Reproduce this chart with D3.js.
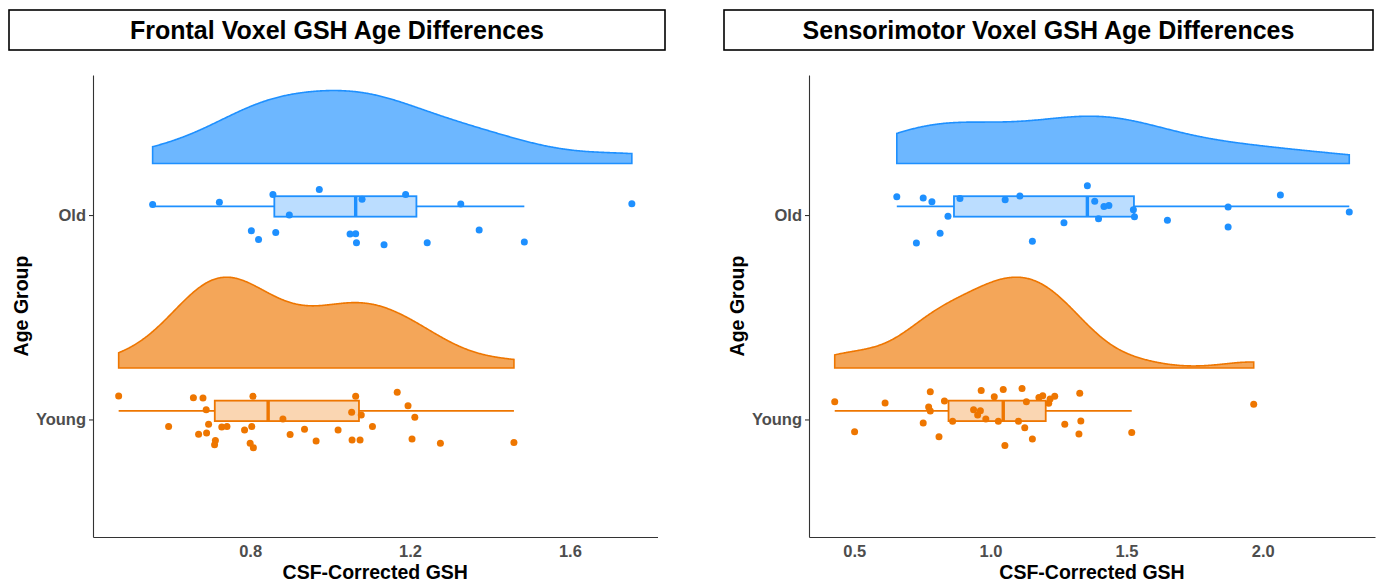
<!DOCTYPE html>
<html>
<head>
<meta charset="utf-8">
<script src="https://cdn.jsdelivr.net/npm/d3@7"></script>
<style>
  body { margin: 0; background: #fff; }
  text { font-family: "Liberation Sans", Arial, sans-serif; }
</style>
</head>
<body>
<div id="chart"></div>
<script>
// values; jitter = vertical offset of each dot in category units
var groups = ["Young", "Old"];
var titles = ["Frontal Voxel GSH Age Differences", "Sensorimotor Voxel GSH Age Differences"];
var xTitle = "CSF-Corrected GSH";
var yTitle = "Age Group";

var frontalOld = [0.556, 0.723, 0.857, 0.973, 0.898, 1.080, 1.189, 1.327, 1.755, 0.803, 0.821, 0.864, 1.050, 1.064, 1.066, 1.135, 1.243, 1.373, 1.486];
var frontalOldJitter = [0.052, 0.062, 0.101, 0.125, 0.0, 0.077, 0.101, 0.054, 0.055, -0.077, -0.120, -0.085, -0.093, -0.091, -0.135, -0.145, -0.135, -0.073, -0.132];
var frontalYoung = [0.471, 0.658, 0.682, 0.690, 0.807, 1.064, 1.054, 1.078, 1.168, 1.195, 1.212, 0.882, 0.596, 0.696, 0.729, 0.742, 0.786, 0.804, 0.671, 0.691, 0.713, 0.711, 0.800, 0.808, 0.900, 0.936, 0.965, 1.020, 1.055, 1.075, 1.106, 1.205, 1.276, 1.460];
var frontalYoungJitter = [0.115, 0.106, 0.105, 0.048, 0.113, 0.113, 0.035, 0.022, 0.133, 0.067, 0.011, 0.002, -0.035, -0.023, -0.037, -0.035, -0.051, -0.035, -0.072, -0.066, -0.103, -0.124, -0.116, -0.138, -0.074, -0.048, -0.105, -0.051, -0.100, -0.101, -0.035, -0.095, -0.116, -0.113];
var frontalTicks = [0.8, 1.2, 1.6];

var sensoriOld = [0.656, 0.753, 0.785, 0.888, 1.054, 1.108, 1.356, 1.383, 1.417, 1.435, 1.525, 1.529, 1.397, 1.270, 0.844, 0.815, 0.728, 1.154, 1.650, 1.873, 1.873, 2.065, 2.318];
var sensoriOldJitter = [0.089, 0.083, 0.065, 0.081, 0.075, 0.093, 0.143, 0.068, 0.042, 0.047, 0.026, -0.008, -0.018, -0.038, -0.006, -0.089, -0.137, -0.128, -0.026, 0.039, -0.059, 0.098, 0.015];
var sensoriYoung = [0.428, 0.613, 0.501, 0.779, 0.773, 0.779, 0.753, 0.811, 0.831, 0.861, 0.938, 0.963, 0.953, 0.966, 0.983, 1.014, 1.029, 1.047, 1.053, 1.103, 1.116, 1.126, 1.132, 1.154, 1.178, 1.192, 1.214, 1.219, 1.236, 1.273, 1.328, 1.332, 1.325, 1.519, 1.967];
var sensoriYoungJitter = [0.087, 0.080, -0.060, 0.136, 0.061, 0.041, -0.017, -0.085, 0.090, -0.009, 0.048, 0.043, 0.022, 0.142, 0.002, 0.111, -0.009, 0.147, -0.128, -0.009, 0.152, -0.040, 0.087, -0.095, 0.108, 0.116, 0.079, 0.100, 0.113, -0.023, 0.128, -0.007, -0.071, -0.064, 0.074];
var sensoriTicks = [0.5, 1.0, 1.5, 2.0];

var colors = { Young: "#EE7600", Old: "#1E90FF" };

var W = 1382, H = 582;
var svg = d3.select("#chart").append("svg").attr("width", W).attr("height", H);

// gaussian kernel density, bw.nrd0, trimmed to the data range
function kde(values, n) {
  var s = values.slice().sort(d3.ascending);
  var sd = d3.deviation(s);
  var iqr = d3.quantileSorted(s, 0.75) - d3.quantileSorted(s, 0.25);
  var bw = 0.9 * Math.min(sd, iqr / 1.34) * Math.pow(s.length, -0.2);
  var lo = s[0], hi = s[s.length - 1];
  return d3.range(n).map(function(i) {
    var x = lo + (hi - lo) * i / (n - 1);
    var t = d3.sum(s, function(v) { var u = (x - v) / bw; return Math.exp(-0.5 * u * u); });
    return [x, t / (s.length * bw * Math.sqrt(2 * Math.PI))];
  });
}

function boxStats(values) {
  var s = values.slice().sort(d3.ascending);
  var q1 = d3.quantileSorted(s, 0.25), med = d3.quantileSorted(s, 0.5), q3 = d3.quantileSorted(s, 0.75);
  var iqr = q3 - q1;
  var inside = s.filter(function(v) { return v >= q1 - 1.5 * iqr && v <= q3 + 1.5 * iqr; });
  return { q1: q1, med: med, q3: q3, lo: d3.min(inside), hi: d3.max(inside) };
}

function drawPanel(opt) {
  var g = svg.append("g");
  var top = 75, bottom = 537;

  // title box
  g.append("rect").attr("x", opt.boxLeft).attr("y", 10)
    .attr("width", opt.boxRight - opt.boxLeft).attr("height", 40)
    .attr("fill", "none").attr("stroke", "#000").attr("stroke-width", 1.6);
  g.append("text").attr("x", (opt.boxLeft + opt.boxRight) / 2).attr("y", 39)
    .attr("text-anchor", "middle").attr("font-size", 25).attr("font-weight", "bold")
    .text(opt.title);

  var all = opt.data.Young.concat(opt.data.Old);
  var ext = d3.extent(all), pad = (ext[1] - ext[0]) * 0.05;
  var x = d3.scaleLinear().domain([ext[0] - pad, ext[1] + pad]).range([opt.left, opt.right]);
  var y = d3.scaleLinear().domain([0.425, 2.685]).range([bottom, top]);

  var dens = {};
  groups.forEach(function(k) { dens[k] = kde(opt.data[k], 512); });
  var maxD = d3.max(groups, function(k) { return d3.max(dens[k], function(d) { return d[1]; }); });
  var wScale = d3.scaleLinear().domain([0, maxD]).range([0, 0.444]);

  groups.forEach(function(k, i) {
    var lvl = i + 1, col = colors[k];
    var base = lvl + 0.252;
    var pts = dens[k];
    var poly = [[pts[0][0], base]].concat(pts.map(function(d) { return [d[0], base + wScale(d[1])]; }))
      .concat([[pts[pts.length - 1][0], base]]);
    g.append("path")
      .attr("d", d3.line().x(function(d) { return x(d[0]); }).y(function(d) { return y(d[1]); })(poly) + "Z")
      .attr("fill", col).attr("fill-opacity", 0.65)
      .attr("stroke", col).attr("stroke-width", 1.6);

    var b = boxStats(opt.data[k]);
    var bc = lvl + 0.042, bh = 0.05;
    g.append("line").attr("x1", x(b.lo)).attr("x2", x(b.q1)).attr("y1", y(bc)).attr("y2", y(bc))
      .attr("stroke", col).attr("stroke-width", 1.8);
    g.append("line").attr("x1", x(b.q3)).attr("x2", x(b.hi)).attr("y1", y(bc)).attr("y2", y(bc))
      .attr("stroke", col).attr("stroke-width", 1.8);
    g.append("rect").attr("x", x(b.q1)).attr("y", y(bc + bh))
      .attr("width", x(b.q3) - x(b.q1)).attr("height", y(bc - bh) - y(bc + bh))
      .attr("fill", col).attr("fill-opacity", 0.3)
      .attr("stroke", col).attr("stroke-width", 1.8);
    g.append("line").attr("x1", x(b.med)).attr("x2", x(b.med)).attr("y1", y(bc + bh)).attr("y2", y(bc - bh))
      .attr("stroke", col).attr("stroke-width", 3.4);

    g.selectAll(null).data(opt.data[k]).enter().append("circle")
      .attr("cx", function(d) { return x(d); })
      .attr("cy", function(d, j) { return y(lvl + opt.jitter[k][j]); })
      .attr("r", 3.5).attr("fill", col);
  });

  // axes
  var ya = g.append("g").attr("transform", "translate(" + opt.left + ",0)")
    .call(d3.axisLeft(y).tickValues([1, 2]).tickFormat(function(d) { return groups[d - 1]; })
      .tickSize(4).tickSizeOuter(0).tickPadding(3));
  ya.select(".domain").attr("stroke", "#333").attr("stroke-width", 1.1);
  ya.selectAll(".tick line").attr("stroke", "#333").attr("stroke-width", 1.1);
  ya.selectAll(".tick text").attr("font-size", 16.5).attr("font-weight", "bold").attr("fill", "#4D4D4D")
    .style("font-family", "'Liberation Sans', Arial, sans-serif");

  var xa = g.append("g").attr("transform", "translate(0," + bottom + ")")
    .call(d3.axisBottom(x).tickValues(opt.ticks).tickFormat(d3.format(".1f"))
      .tickSize(0).tickSizeOuter(0).tickPadding(8));
  xa.select(".domain").attr("stroke", "#333").attr("stroke-width", 1.1);
  xa.selectAll(".tick text").attr("font-size", 16.5).attr("font-weight", "bold").attr("fill", "#4D4D4D")
    .style("font-family", "'Liberation Sans', Arial, sans-serif");

  g.append("text").attr("x", (opt.left + opt.right) / 2).attr("y", 579)
    .attr("text-anchor", "middle").attr("font-size", 19.5).attr("font-weight", "bold").text(xTitle);
  g.append("text").attr("transform", "translate(" + (opt.left - 65) + "," + ((top + bottom) / 2) + ") rotate(-90)")
    .attr("text-anchor", "middle").attr("font-size", 19.5).attr("font-weight", "bold").text(yTitle);
}

drawPanel({
  title: titles[0], left: 93, right: 657.5, boxLeft: 9, boxRight: 665, ticks: frontalTicks,
  data: { Young: frontalYoung, Old: frontalOld },
  jitter: { Young: frontalYoungJitter, Old: frontalOldJitter }
});
drawPanel({
  title: titles[1], left: 809, right: 1375, boxLeft: 724, boxRight: 1373, ticks: sensoriTicks,
  data: { Young: sensoriYoung, Old: sensoriOld },
  jitter: { Young: sensoriYoungJitter, Old: sensoriOldJitter }
});
</script>
</body>
</html>
